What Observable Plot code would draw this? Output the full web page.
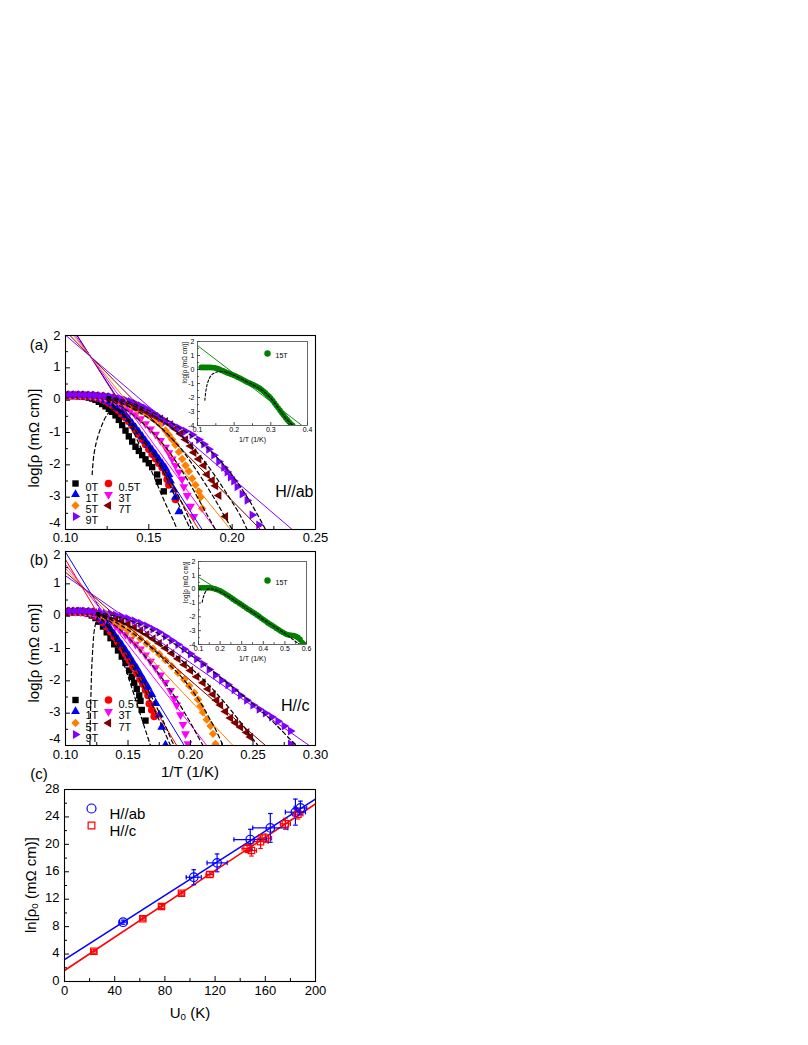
<!DOCTYPE html>
<html><head><meta charset="utf-8">
<script src="https://cdn.jsdelivr.net/npm/d3@7"></script>
<script src="https://cdn.jsdelivr.net/npm/@observablehq/plot@0.6"></script>
<style>
body{margin:0;background:#fff;}
#fig{position:relative;width:808px;height:1045px;font-family:"Liberation Sans",Arial,sans-serif;overflow:hidden;}
.lbl{position:absolute;white-space:nowrap;color:#000;line-height:1;}
.lbl sub{font-size:0.65em;vertical-align:-0.3em;line-height:0;}
</style></head><body><div id="fig"></div>
<script>
// ---------------- DATA ----------------
const fields = ["0T","0.5T","1T","3T","5T","7T","9T"];
// Panel (a) H//ab : [1/T, log rho]
const a_0T = [[0.100,0.13],[0.102,0.13],[0.104,0.13],[0.106,0.13],[0.108,0.12],[0.110,0.11],[0.112,0.10],[0.114,0.08],[0.116,0.05],[0.118,0.01],[0.120,-0.05],[0.122,-0.12],[0.124,-0.19],[0.126,-0.27],[0.128,-0.36],[0.130,-0.47],[0.132,-0.61],[0.134,-0.77],[0.136,-0.94],[0.138,-1.12],[0.140,-1.28],[0.142,-1.44],[0.144,-1.57],[0.146,-1.70],[0.148,-1.83],[0.150,-1.95],[0.152,-2.07],[0.155,-2.30],[0.156,-2.52],[0.159,-2.82]];
const a_05T = [[0.100,0.14],[0.102,0.14],[0.104,0.14],[0.106,0.14],[0.108,0.14],[0.110,0.13],[0.112,0.13],[0.114,0.12],[0.116,0.11],[0.118,0.09],[0.120,0.06],[0.122,0.02],[0.124,-0.03],[0.126,-0.09],[0.128,-0.16],[0.130,-0.24],[0.132,-0.33],[0.134,-0.43],[0.136,-0.54],[0.138,-0.66],[0.140,-0.79],[0.142,-0.93],[0.144,-1.07],[0.146,-1.22],[0.148,-1.37],[0.150,-1.52],[0.152,-1.67],[0.154,-1.81],[0.156,-1.95],[0.158,-2.08],[0.160,-2.24],[0.161,-2.45],[0.162,-2.62],[0.166,-3.07]];
const a_1T = [[0.100,0.14],[0.102,0.14],[0.104,0.14],[0.106,0.14],[0.108,0.14],[0.110,0.14],[0.112,0.13],[0.114,0.12],[0.116,0.11],[0.118,0.09],[0.120,0.07],[0.122,0.04],[0.124,0.00],[0.126,-0.05],[0.128,-0.11],[0.130,-0.18],[0.132,-0.26],[0.134,-0.36],[0.136,-0.47],[0.138,-0.59],[0.140,-0.72],[0.142,-0.85],[0.144,-0.98],[0.146,-1.12],[0.148,-1.26],[0.150,-1.40],[0.152,-1.54],[0.154,-1.68],[0.156,-1.82],[0.158,-1.96],[0.160,-2.10],[0.162,-2.30],[0.163,-2.50],[0.165,-2.78],[0.166,-3.00],[0.168,-3.45]];
const a_3T = [[0.100,0.15],[0.103,0.15],[0.106,0.15],[0.109,0.15],[0.112,0.14],[0.115,0.13],[0.118,0.11],[0.121,0.08],[0.124,0.05],[0.127,0.00],[0.130,-0.06],[0.133,-0.14],[0.136,-0.23],[0.139,-0.33],[0.142,-0.45],[0.145,-0.58],[0.148,-0.73],[0.151,-0.89],[0.154,-1.06],[0.157,-1.25],[0.160,-1.46],[0.162,-1.63],[0.164,-1.82],[0.166,-2.02],[0.168,-2.22],[0.170,-2.44],[0.171,-2.68],[0.173,-2.95],[0.175,-3.28],[0.177,-3.60]];
const a_5T = [[0.100,0.15],[0.103,0.15],[0.106,0.15],[0.109,0.15],[0.112,0.15],[0.115,0.14],[0.118,0.13],[0.121,0.11],[0.124,0.08],[0.127,0.04],[0.130,-0.01],[0.133,-0.06],[0.136,-0.12],[0.139,-0.19],[0.142,-0.26],[0.145,-0.33],[0.148,-0.40],[0.151,-0.50],[0.154,-0.62],[0.157,-0.76],[0.160,-0.94],[0.162,-1.08],[0.164,-1.22],[0.166,-1.38],[0.168,-1.60],[0.170,-1.82],[0.172,-2.02],[0.174,-2.20],[0.176,-2.42],[0.178,-2.62],[0.180,-2.82],[0.181,-3.00],[0.182,-3.35]];
const a_7T = [[0.100,0.16],[0.103,0.16],[0.106,0.16],[0.109,0.16],[0.112,0.15],[0.115,0.15],[0.118,0.14],[0.121,0.12],[0.124,0.10],[0.127,0.07],[0.130,0.03],[0.133,-0.02],[0.136,-0.08],[0.139,-0.14],[0.142,-0.20],[0.145,-0.27],[0.148,-0.34],[0.151,-0.42],[0.154,-0.50],[0.157,-0.58],[0.160,-0.66],[0.163,-0.76],[0.166,-0.89],[0.169,-1.04],[0.172,-1.22],[0.175,-1.42],[0.177,-1.62],[0.180,-1.82],[0.183,-2.02],[0.185,-2.30],[0.188,-2.48],[0.190,-2.65],[0.192,-2.95],[0.196,-3.60]];
const a_9T = [[0.100,0.17],[0.103,0.17],[0.106,0.17],[0.109,0.17],[0.112,0.16],[0.115,0.16],[0.118,0.15],[0.121,0.14],[0.124,0.13],[0.127,0.11],[0.130,0.08],[0.133,0.05],[0.136,0.01],[0.139,-0.04],[0.142,-0.10],[0.145,-0.17],[0.148,-0.25],[0.151,-0.34],[0.154,-0.44],[0.157,-0.55],[0.160,-0.65],[0.164,-0.76],[0.168,-0.86],[0.172,-0.96],[0.176,-1.07],[0.180,-1.22],[0.183,-1.36],[0.186,-1.52],[0.189,-1.70],[0.192,-1.90],[0.195,-2.08],[0.197,-2.22],[0.199,-2.38],[0.201,-2.50],[0.203,-2.68],[0.206,-2.90],[0.209,-3.10],[0.212,-3.55],[0.216,-3.86]];
// Arrhenius fit lines (a): field, x1, y1, x2, y2
const a_fitField = ["0.5T","1T","3T","5T","7T","9T"];
const a_fitX1 = [0.100,0.100,0.100,0.100,0.100,0.100];
const a_fitY1 = [2.58,2.55,2.42,2.31,2.14,2.01];
const a_fitX2 = [0.180,0.182,0.190,0.199,0.217,0.236];
const a_fitY2 = [-4,-4,-4,-4,-4,-4];
// model fits (dashed) (a)
const a_d0T = [[0.116,-2.30],[0.117,-1.70],[0.119,-1.20],[0.122,-0.75],[0.125,-0.45],[0.128,-0.30],[0.131,-0.27],[0.134,-0.36],[0.137,-0.60],[0.140,-0.90],[0.145,-1.45],[0.150,-2.00],[0.155,-2.60],[0.160,-3.20],[0.165,-3.75],[0.167,-4.00]];
const a_d05T = [[0.125,0.00],[0.130,-0.25],[0.135,-0.50],[0.140,-0.80],[0.145,-1.15],[0.150,-1.50],[0.155,-1.90],[0.160,-2.35],[0.165,-2.90],[0.170,-3.45],[0.175,-4.00]];
const a_d1T = [[0.125,0.02],[0.130,-0.20],[0.135,-0.45],[0.140,-0.72],[0.145,-1.05],[0.150,-1.40],[0.155,-1.78],[0.160,-2.20],[0.165,-2.68],[0.170,-3.20],[0.177,-4.00]];
const a_d3T = [[0.125,0.05],[0.135,-0.25],[0.145,-0.65],[0.150,-0.88],[0.155,-1.15],[0.160,-1.45],[0.165,-1.80],[0.170,-2.20],[0.175,-2.62],[0.180,-3.08],[0.185,-3.55],[0.190,-4.00]];
const a_d5T = [[0.125,0.08],[0.135,-0.12],[0.145,-0.40],[0.155,-0.75],[0.160,-0.98],[0.165,-1.25],[0.170,-1.55],[0.175,-1.90],[0.180,-2.28],[0.185,-2.68],[0.190,-3.10],[0.195,-3.55],[0.200,-4.00]];
const a_d7T = [[0.125,0.10],[0.135,-0.05],[0.145,-0.27],[0.155,-0.55],[0.165,-0.90],[0.170,-1.12],[0.175,-1.38],[0.180,-1.68],[0.185,-2.00],[0.190,-2.36],[0.195,-2.75],[0.200,-3.15],[0.205,-3.58],[0.209,-4.00]];
const a_d9T = [[0.125,0.12],[0.135,0.00],[0.145,-0.20],[0.155,-0.45],[0.165,-0.75],[0.175,-1.08],[0.185,-1.48],[0.190,-1.72],[0.195,-2.00],[0.200,-2.32],[0.205,-2.68],[0.210,-3.08],[0.215,-3.52],[0.220,-4.00]];

// Panel (b) H//c
const b_0T = [[0.100,0.12],[0.103,0.12],[0.106,0.12],[0.109,0.12],[0.112,0.11],[0.115,0.10],[0.118,0.07],[0.121,0.02],[0.124,-0.06],[0.127,-0.17],[0.130,-0.32],[0.133,-0.50],[0.136,-0.68],[0.139,-0.87],[0.142,-1.06],[0.145,-1.25],[0.148,-1.45],[0.151,-1.68],[0.153,-1.88],[0.155,-2.06],[0.157,-2.25],[0.159,-2.45],[0.160,-2.62],[0.161,-2.90],[0.164,-3.23]];
const b_05T = [[0.100,0.13],[0.103,0.13],[0.106,0.13],[0.109,0.13],[0.112,0.12],[0.115,0.11],[0.118,0.10],[0.121,0.06],[0.124,0.00],[0.127,-0.09],[0.130,-0.20],[0.133,-0.33],[0.136,-0.48],[0.139,-0.64],[0.142,-0.81],[0.145,-0.98],[0.148,-1.16],[0.151,-1.35],[0.154,-1.55],[0.157,-1.75],[0.160,-1.95],[0.162,-2.10],[0.164,-2.28],[0.166,-2.45],[0.167,-2.71],[0.169,-2.90],[0.171,-3.10]];
const b_1T = [[0.100,0.13],[0.103,0.13],[0.106,0.13],[0.109,0.13],[0.112,0.13],[0.115,0.12],[0.118,0.10],[0.121,0.07],[0.124,0.02],[0.127,-0.06],[0.130,-0.16],[0.133,-0.28],[0.136,-0.41],[0.139,-0.56],[0.142,-0.72],[0.145,-0.88],[0.148,-1.05],[0.151,-1.23],[0.154,-1.42],[0.157,-1.60],[0.160,-1.80],[0.163,-2.00],[0.166,-2.20],[0.169,-2.42],[0.172,-2.70],[0.175,-3.05],[0.177,-3.43],[0.180,-3.98]];
const b_3T = [[0.100,0.14],[0.104,0.14],[0.108,0.14],[0.112,0.13],[0.116,0.12],[0.120,0.10],[0.124,0.06],[0.128,0.00],[0.132,-0.08],[0.136,-0.18],[0.140,-0.30],[0.144,-0.43],[0.148,-0.57],[0.152,-0.72],[0.156,-0.87],[0.160,-1.02],[0.164,-1.20],[0.168,-1.40],[0.172,-1.60],[0.176,-1.82],[0.180,-2.05],[0.184,-2.30],[0.187,-2.55],[0.189,-2.75],[0.192,-3.05],[0.194,-3.35],[0.196,-3.64],[0.198,-3.95]];
const b_5T = [[0.100,0.14],[0.104,0.14],[0.108,0.14],[0.112,0.14],[0.116,0.13],[0.119,0.12],[0.122,0.10],[0.126,0.05],[0.130,-0.01],[0.135,-0.10],[0.140,-0.20],[0.145,-0.31],[0.150,-0.43],[0.155,-0.56],[0.160,-0.70],[0.165,-0.85],[0.170,-1.01],[0.175,-1.18],[0.180,-1.36],[0.185,-1.55],[0.190,-1.75],[0.195,-1.96],[0.199,-2.15],[0.203,-2.37],[0.206,-2.58],[0.208,-2.78],[0.210,-2.97],[0.213,-3.20],[0.216,-3.40],[0.218,-3.64],[0.220,-3.95]];
const b_7T = [[0.100,0.15],[0.104,0.15],[0.108,0.15],[0.112,0.15],[0.116,0.14],[0.120,0.13],[0.123,0.11],[0.126,0.09],[0.130,0.05],[0.135,0.00],[0.140,-0.07],[0.145,-0.15],[0.150,-0.24],[0.155,-0.34],[0.160,-0.45],[0.165,-0.57],[0.170,-0.70],[0.175,-0.84],[0.180,-0.99],[0.185,-1.15],[0.190,-1.32],[0.195,-1.50],[0.200,-1.68],[0.205,-1.87],[0.210,-2.06],[0.214,-2.25],[0.218,-2.42],[0.221,-2.60],[0.224,-2.75],[0.228,-2.95],[0.232,-3.15],[0.236,-3.30],[0.240,-3.43],[0.245,-3.60],[0.248,-3.74]];
const b_9T = [[0.100,0.16],[0.104,0.16],[0.108,0.16],[0.112,0.16],[0.116,0.15],[0.120,0.15],[0.124,0.14],[0.128,0.12],[0.132,0.10],[0.136,0.07],[0.140,0.04],[0.145,-0.01],[0.150,-0.07],[0.155,-0.14],[0.160,-0.22],[0.165,-0.30],[0.170,-0.40],[0.175,-0.50],[0.180,-0.62],[0.185,-0.75],[0.190,-0.88],[0.195,-1.02],[0.200,-1.17],[0.205,-1.32],[0.210,-1.48],[0.215,-1.65],[0.220,-1.82],[0.225,-1.98],[0.230,-2.12],[0.235,-2.28],[0.240,-2.45],[0.245,-2.60],[0.250,-2.75],[0.255,-2.88],[0.260,-3.00],[0.265,-3.12],[0.270,-3.25],[0.275,-3.40],[0.280,-3.55],[0.280,-3.95]];
const b_fitField = ["0.5T","1T","3T","5T","7T","9T"];
const b_fitX1 = [0.100,0.100,0.100,0.100,0.100,0.100];
const b_fitY1 = [1.75,1.98,1.60,1.47,1.36,1.25];
const b_fitX2 = [0.189,0.195,0.213,0.234,0.260,0.295];
const b_fitY2 = [-4,-4,-4,-4,-4,-4];
const b_d0T = [[0.1195,-4.00],[0.1200,-3.00],[0.1205,-2.20],[0.121,-1.60],[0.122,-0.90],[0.123,-0.45],[0.125,-0.10],[0.127,0.03],[0.129,0.05],[0.131,0.00],[0.134,-0.20],[0.138,-0.55],[0.142,-0.95],[0.146,-1.40],[0.150,-1.85],[0.155,-2.45],[0.160,-3.05],[0.165,-3.65],[0.168,-4.00]];
const b_d05T = [[0.125,0.05],[0.130,-0.15],[0.135,-0.40],[0.140,-0.70],[0.145,-1.00],[0.150,-1.32],[0.155,-1.66],[0.160,-2.02],[0.165,-2.40],[0.170,-2.80],[0.175,-3.22],[0.180,-3.65],[0.184,-4.00]];
const b_d1T = [[0.125,0.06],[0.130,-0.12],[0.135,-0.35],[0.140,-0.60],[0.145,-0.88],[0.150,-1.18],[0.155,-1.50],[0.160,-1.84],[0.165,-2.20],[0.170,-2.58],[0.175,-2.98],[0.180,-3.40],[0.185,-3.85],[0.187,-4.00]];
const b_d3T = [[0.125,0.08],[0.135,-0.15],[0.145,-0.47],[0.155,-0.85],[0.165,-1.30],[0.175,-1.80],[0.180,-2.07],[0.185,-2.35],[0.190,-2.65],[0.195,-2.97],[0.200,-3.30],[0.205,-3.65],[0.210,-4.00]];
const b_d5T = [[0.125,0.10],[0.135,-0.08],[0.145,-0.30],[0.155,-0.56],[0.165,-0.86],[0.175,-1.20],[0.185,-1.57],[0.195,-1.98],[0.205,-2.50],[0.210,-2.80],[0.215,-3.15],[0.220,-3.50],[0.226,-4.00]];
const b_d7T = [[0.125,0.10],[0.140,-0.10],[0.155,-0.38],[0.170,-0.72],[0.185,-1.12],[0.200,-1.60],[0.210,-1.95],[0.220,-2.35],[0.230,-2.80],[0.240,-3.28],[0.250,-3.80],[0.254,-4.00]];
const b_d9T = [[0.125,0.12],[0.140,0.00],[0.155,-0.18],[0.170,-0.45],[0.185,-0.80],[0.200,-1.20],[0.215,-1.62],[0.230,-2.08],[0.245,-2.55],[0.260,-3.05],[0.270,-3.42],[0.280,-3.82],[0.285,-4.00]];

// Insets: 15 T
const ia_15T = [[0.110,0.15],[0.115,0.15],[0.120,0.15],[0.125,0.15],[0.130,0.15],[0.135,0.15],[0.140,0.14],[0.145,0.12],[0.150,0.10],[0.155,0.06],[0.160,0.01],[0.165,-0.05],[0.170,-0.10],[0.175,-0.16],[0.180,-0.22],[0.185,-0.27],[0.190,-0.32],[0.195,-0.37],[0.200,-0.43],[0.205,-0.49],[0.210,-0.55],[0.215,-0.61],[0.220,-0.68],[0.225,-0.75],[0.230,-0.82],[0.235,-0.89],[0.240,-0.95],[0.245,-1.01],[0.250,-1.07],[0.255,-1.13],[0.260,-1.20],[0.265,-1.27],[0.270,-1.35],[0.275,-1.45],[0.280,-1.55],[0.285,-1.67],[0.290,-1.80],[0.295,-1.92],[0.300,-2.05],[0.305,-2.22],[0.310,-2.40],[0.315,-2.57],[0.320,-2.75],[0.325,-2.92],[0.330,-3.10],[0.335,-3.27],[0.340,-3.45],[0.345,-3.60],[0.350,-3.75],[0.355,-3.90],[0.360,-4.00]];
const ia_fit = [[0.100,1.71],[0.385,-4.00]];
const ia_dash = [[0.120,-2.20],[0.123,-1.50],[0.127,-1.00],[0.133,-0.60],[0.140,-0.35],[0.150,-0.20],[0.160,-0.15],[0.170,-0.15],[0.180,-0.20],[0.190,-0.30],[0.200,-0.42],[0.220,-0.68],[0.240,-0.95],[0.260,-1.22],[0.280,-1.55],[0.300,-2.05],[0.320,-2.75],[0.340,-3.45],[0.360,-4.00]];
const ib_15T = [[0.10,0.10],[0.11,0.10],[0.12,0.10],[0.13,0.10],[0.14,0.10],[0.15,0.10],[0.16,0.08],[0.17,0.05],[0.18,0.00],[0.19,-0.06],[0.20,-0.12],[0.21,-0.21],[0.22,-0.30],[0.23,-0.40],[0.24,-0.50],[0.25,-0.61],[0.26,-0.72],[0.27,-0.83],[0.28,-0.93],[0.29,-1.03],[0.30,-1.13],[0.31,-1.24],[0.32,-1.35],[0.33,-1.45],[0.34,-1.55],[0.35,-1.65],[0.36,-1.75],[0.37,-1.86],[0.38,-1.97],[0.39,-2.08],[0.40,-2.20],[0.41,-2.31],[0.42,-2.42],[0.43,-2.52],[0.44,-2.62],[0.45,-2.72],[0.46,-2.82],[0.47,-2.92],[0.48,-3.02],[0.49,-3.11],[0.50,-3.20],[0.51,-3.28],[0.52,-3.32],[0.53,-3.34],[0.54,-3.35],[0.55,-3.40],[0.56,-3.48],[0.57,-3.62],[0.58,-3.85],[0.59,-4.00]];
const ib_fit = [[0.100,0.87],[0.590,-4.00]];
const ib_dash = [[0.117,-0.95],[0.122,-0.60],[0.128,-0.33],[0.135,-0.13],[0.142,-0.02],[0.150,0.03],[0.160,0.03],[0.170,0.00],[0.190,-0.12],[0.220,-0.35],[0.260,-0.75],[0.300,-1.15],[0.340,-1.57],[0.380,-1.98],[0.420,-2.40],[0.460,-2.80],[0.500,-3.20],[0.530,-3.55],[0.560,-3.90],[0.570,-4.00]];

// Panel (c): U0 (K), ln rho0
const c_abU = [46.7,103,121.6,148,164,184,188];
const c_abLn = [8.65,15.2,17.3,20.7,22.4,24.7,25.3];
const c_abUerr = [3,6,8,13,14,8,5];
const c_abLnErr = [0.3,1.1,1.3,1.5,2.1,1.9,1.0];
const c_cU = [23.4,62.4,77.3,93.2,115.8,145.5,149,156.2,160,176,186];
const c_cLn = [4.42,9.14,10.94,12.88,15.6,19.4,19.1,20.4,20.9,23.0,24.4];
const c_cUerr = [2,2,2,2,3,4,4,6,5,4,4];
const c_cLnErr = [0.3,0.3,0.3,0.3,0.4,0.6,0.8,1.0,0.6,0.8,0.7];
const c_fitAb = [[0,3.2],[200,26.6]];
const c_fitC = [[0,1.6],[200,25.9]];

// tick values
const ticksA_x = [0.10,0.15,0.20,0.25], ticksA_xm = [0.125,0.175,0.225];
const ticksB_x = [0.10,0.15,0.20,0.25,0.30], ticksB_xm = [0.125,0.175,0.225,0.275];
const ticksLog = [-4,-3,-2,-1,0,1,2], ticksLogm = [-3.5,-2.5,-1.5,-0.5,0.5,1.5];
const ticksIa_x = [0.1,0.2,0.3,0.4], ticksIa_xm = [0.15,0.25,0.35];
const ticksIb_x = [0.1,0.2,0.3,0.4,0.5,0.6], ticksIb_xm = [0.15,0.25,0.35,0.45,0.55];
const ticksC_x = [0,40,80,120,160,200], ticksC_xm = [20,60,100,140,180];
const ticksC_y = [0,4,8,12,16,20,24,28], ticksC_ym = [2,6,10,14,18,22,26];

// ---------------- STYLE ----------------
const FONT = '"Liberation Sans", Arial, Helvetica, sans-serif';
const TICKFS = 13;
const sq3 = Math.sqrt(3);
function triSym(dir){ return {draw(c, size){ const y = Math.sqrt(size/(sq3*3)); let p;
  if (dir === "down") p = [[0,2*y],[-sq3*y,-y],[sq3*y,-y]];
  else if (dir === "left") p = [[-2*y,0],[y,-sq3*y],[y,sq3*y]];
  else p = [[2*y,0],[-y,-sq3*y],[-y,sq3*y]];
  c.moveTo(p[0][0],p[0][1]); c.lineTo(p[1][0],p[1][1]); c.lineTo(p[2][0],p[2][1]); c.closePath(); }}; }
const hcap = {draw(c, size){ const r = Math.sqrt(size)/2; c.moveTo(-r,0); c.lineTo(r,0); }};
const vcap = {draw(c, size){ const r = Math.sqrt(size)/2; c.moveTo(0,-r); c.lineTo(0,r); }};
const fieldStyle = {
  "0T":   {color:"#000000", symbol:"square", r:3.6},
  "0.5T": {color:"#ff0000", symbol:"circle", r:3.8},
  "1T":   {color:"#0000ff", symbol:"triangle", r:3.3},
  "3T":   {color:"#ff00ff", symbol:triSym("down"), r:3.3},
  "5T":   {color:"#ff8000", symbol:"diamond2", r:3.8},
  "7T":   {color:"#800000", symbol:triSym("left"), r:3.3},
  "9T":   {color:"#8000ff", symbol:triSym("right"), r:3.3}
};
const X = d => d[0], Y = d => d[1];

function frameTicks(o, xMaj, xMin, yMaj, yMin, lMaj, lMin, sw){
  const fw = o.width - o.marginLeft - o.marginRight, fh = o.height - o.marginTop - o.marginBottom;
  return [
    Plot.tickX(xMaj, {x: d=>d, insetTop: fh - lMaj, stroke: "black", strokeWidth: sw}),
    Plot.tickX(xMin, {x: d=>d, insetTop: fh - lMin, stroke: "black", strokeWidth: sw}),
    Plot.tickY(yMaj, {y: d=>d, insetRight: fw - lMaj, stroke: "black", strokeWidth: sw}),
    Plot.tickY(yMin, {y: d=>d, insetRight: fw - lMin, stroke: "black", strokeWidth: sw})
  ];
}

function mainPanel(o){
  const marks = [];
  fields.forEach(f => { const st = fieldStyle[f];
    marks.push(Plot.dot(o.series[f], {x: X, y: Y, symbol: st.symbol, fill: st.color, r: st.r, clip: true})); });
  o.fitField.forEach((f, i) => marks.push(Plot.link([i], {x1: i=>o.fitX1[i], y1: i=>o.fitY1[i], x2: i=>o.fitX2[i], y2: i=>o.fitY2[i], stroke: fieldStyle[f].color, strokeWidth: 1, clip: true})));
  fields.forEach(f => marks.push(Plot.line(o.dashed[f], {x: X, y: Y, stroke: "black", strokeWidth: 1.2, strokeDasharray: "4,3", curve: "catmull-rom", clip: true})));
  // legend
  const cols = [10, 43], rows = o.legendRows;
  const pos = {"0T":[0,0],"0.5T":[1,0],"1T":[0,1],"3T":[1,1],"5T":[0,2],"7T":[1,2],"9T":[0,3]};
  fields.forEach(f => { const st = fieldStyle[f]; const [c, r] = pos[f];
    marks.push(Plot.dot([f], {frameAnchor: "top-left", dx: cols[c], dy: rows[r], symbol: st.symbol, fill: st.color, r: st.r}));
    marks.push(Plot.text([f], {frameAnchor: "top-left", dx: cols[c] + 10, dy: rows[r], text: d=>d, textAnchor: "start", fontSize: 11}));
  });
  marks.push(Plot.text([o.tag], {frameAnchor: "top-right", dx: o.tagDx, dy: o.tagDy, text: d=>d, textAnchor: "end", fontSize: o.tagSize}));
  marks.push(...frameTicks(o, o.xMaj, o.xMin, ticksLog, ticksLogm, 5, 3, 1));
  marks.push(Plot.axisX(o.xMaj, {tickSize: 0, tickPadding: o.xPad, tickFormat: d3.format(".2f"), fontSize: TICKFS, label: null}));
  // y tick labels: top, middle, bottom (bottom nudged up so it clears the x labels)
  marks.push(Plot.axisY([2], {tickSize: 0, tickPadding: 5, dy: o.topDy, tickFormat: d => String(d), fontSize: TICKFS, label: null}));
  marks.push(Plot.axisY([-3,-2,-1,0,1], {tickSize: 0, tickPadding: 5, dy: -1, tickFormat: d => String(d), fontSize: TICKFS, label: null}));
  marks.push(Plot.axisY([-4], {tickSize: 0, tickPadding: 5, dy: o.botDy, tickFormat: d => String(d), fontSize: TICKFS, label: null}));
  marks.push(Plot.frame({stroke: "black", strokeWidth: 1.1}));
  return Plot.plot({
    width: o.width, height: o.height, marginLeft: o.marginLeft, marginRight: o.marginRight, marginTop: o.marginTop, marginBottom: o.marginBottom,
    x: {domain: o.xDomain, label: null}, y: {domain: [-4, 2], label: null},
    style: {fontFamily: FONT, fontSize: TICKFS + "px", background: "none", color: "black", overflow: "visible"},
    marks
  });
}

function insetPanel(o){
  const marks = [
    Plot.frame({fill: "white", stroke: "none"}),
    Plot.dot(o.data, {x: X, y: Y, fill: "#008000", r: 2.8, clip: true}),
    Plot.line(o.fit, {x: X, y: Y, stroke: "#008000", strokeWidth: 0.9, clip: true}),
    Plot.line(o.dash, {x: X, y: Y, stroke: "black", strokeWidth: 1.1, strokeDasharray: "2.5,2", curve: "catmull-rom", clip: true}),
    Plot.dot(["15T"], {frameAnchor: "top-left", dx: o.legDx, dy: o.legDy, fill: "#008000", r: 3.2}),
    Plot.text(["15T"], {frameAnchor: "top-left", dx: o.legDx + 8, dy: o.legDy, text: d=>d, textAnchor: "start", fontSize: 7}),
    ...frameTicks(o, o.xMaj, o.xMin, ticksLog, ticksLogm, 3, 1.8, 0.7),
    Plot.axisX(o.xMaj, {tickSize: 0, tickPadding: 2, tickFormat: d => String(d), fontSize: 7, label: null}),
    Plot.axisY(ticksLog, {tickSize: 0, tickPadding: 3, tickFormat: d => String(d), fontSize: 7, label: null}),
    Plot.text(["1/T (1/K)"], {frameAnchor: "bottom", dy: 16, text: d=>d, fontSize: 7}),
    Plot.text(["log[ρ (mΩ cm)]"], {frameAnchor: "left", dx: -13, rotate: -90, text: d=>d, fontSize: 6.3}),
    Plot.frame({stroke: "#444", strokeWidth: 0.8})
  ];
  return Plot.plot({
    width: o.width, height: o.height, marginLeft: o.marginLeft, marginRight: o.marginRight, marginTop: o.marginTop, marginBottom: o.marginBottom,
    x: {domain: o.xDomain, label: null}, y: {domain: [-4, 2], label: null},
    style: {fontFamily: FONT, fontSize: "7px", background: "none", color: "black", overflow: "visible"},
    marks
  });
}

function panelC(o){
  const blue = "#0000ff", red = "#ff0000";
  const ia = c_abU.map((_, i) => i), ic = c_cU.map((_, i) => i);
  const errMarks = (U, L, UE, LE, idx, col) => [
    Plot.ruleX(idx, {x: i=>U[i], y1: i=>L[i]-LE[i], y2: i=>L[i]+LE[i], stroke: col, strokeWidth: 1.2}),
    Plot.ruleY(idx, {y: i=>L[i], x1: i=>U[i]-UE[i], x2: i=>U[i]+UE[i], stroke: col, strokeWidth: 1.2}),
    Plot.dot(idx, {x: i=>U[i], y: i=>L[i]+LE[i], symbol: hcap, stroke: col, fill: "none", r: 2.6, strokeWidth: 1.2}),
    Plot.dot(idx, {x: i=>U[i], y: i=>L[i]-LE[i], symbol: hcap, stroke: col, fill: "none", r: 2.6, strokeWidth: 1.2}),
    Plot.dot(idx, {x: i=>U[i]+UE[i], y: i=>L[i], symbol: vcap, stroke: col, fill: "none", r: 2.6, strokeWidth: 1.2}),
    Plot.dot(idx, {x: i=>U[i]-UE[i], y: i=>L[i], symbol: vcap, stroke: col, fill: "none", r: 2.6, strokeWidth: 1.2})
  ];
  const marks = [
    Plot.line(c_fitAb, {x: X, y: Y, stroke: blue, strokeWidth: 1.6, clip: true}),
    Plot.line(c_fitC, {x: X, y: Y, stroke: red, strokeWidth: 1.6, clip: true}),
    ...errMarks(c_cU, c_cLn, c_cUerr, c_cLnErr, ic, red),
    ...errMarks(c_abU, c_abLn, c_abUerr, c_abLnErr, ia, blue),
    Plot.dot(ic, {x: i=>c_cU[i], y: i=>c_cLn[i], symbol: "square", stroke: red, fill: "none", r: 3.6, strokeWidth: 1.2}),
    Plot.dot(ia, {x: i=>c_abU[i], y: i=>c_abLn[i], symbol: "circle", stroke: blue, fill: "none", r: 4.3, strokeWidth: 1.2}),
    Plot.dot(["H//ab"], {frameAnchor: "top-left", dx: 27, dy: 19, symbol: "circle", stroke: blue, fill: "none", r: 4.5, strokeWidth: 1.2}),
    Plot.text(["H//ab"], {frameAnchor: "top-left", dx: 45, dy: 19, text: d=>d, textAnchor: "start", fontSize: 15}),
    Plot.dot(["H//c"], {frameAnchor: "top-left", dx: 27, dy: 36, symbol: "square", stroke: red, fill: "none", r: 3.8, strokeWidth: 1.2}),
    Plot.text(["H//c"], {frameAnchor: "top-left", dx: 45, dy: 36, text: d=>d, textAnchor: "start", fontSize: 15}),
    ...frameTicks(o, ticksC_x, ticksC_xm, ticksC_y, ticksC_ym, 5, 3, 1),
    Plot.axisX(ticksC_x, {tickSize: 0, tickPadding: 4, tickFormat: d => String(d), fontSize: TICKFS, label: null}),
    Plot.axisY(ticksC_y, {tickSize: 0, tickPadding: 5, dy: -1, tickFormat: d => String(d), fontSize: TICKFS, label: null}),
    Plot.frame({stroke: "black", strokeWidth: 1.1})
  ];
  return Plot.plot({
    width: o.width, height: o.height, marginLeft: o.marginLeft, marginRight: o.marginRight, marginTop: o.marginTop, marginBottom: o.marginBottom,
    x: {domain: [0, 200], label: null}, y: {domain: [0, 28], label: null},
    style: {fontFamily: FONT, fontSize: TICKFS + "px", background: "none", color: "black", overflow: "visible"},
    marks
  });
}

// ---------------- LAYOUT ----------------
const fig = document.getElementById("fig");
function place(el, left, top){ el.style.position = "absolute"; el.style.left = left + "px"; el.style.top = top + "px"; fig.appendChild(el); }
function label(html, cx, cy, size, rot){ const d = document.createElement("div"); d.className = "lbl"; d.innerHTML = html;
  d.style.left = cx + "px"; d.style.top = cy + "px"; d.style.fontSize = size + "px";
  d.style.transform = "translate(-50%,-50%)" + (rot ? " rotate(-90deg)" : ""); fig.appendChild(d); }

const pa = mainPanel({width: 340, height: 230, marginLeft: 65, marginRight: 25, marginTop: 15, marginBottom: 21,
  xDomain: [0.10, 0.25], xMaj: ticksA_x, xMin: ticksA_xm, xPad: 3, topDy: 0, botDy: -7,
  series: {"0T": a_0T, "0.5T": a_05T, "1T": a_1T, "3T": a_3T, "5T": a_5T, "7T": a_7T, "9T": a_9T},
  dashed: {"0T": a_d0T, "0.5T": a_d05T, "1T": a_d1T, "3T": a_d3T, "5T": a_d5T, "7T": a_d7T, "9T": a_d9T},
  fitField: a_fitField, fitX1: a_fitX1, fitY1: a_fitY1, fitX2: a_fitX2, fitY2: a_fitY2,
  legendRows: [148, 159, 170, 181], tag: "H//ab", tagDx: -2, tagDy: 150, tagSize: 16});
place(pa, 0, 320);

const pb = mainPanel({width: 340, height: 231, marginLeft: 65, marginRight: 25, marginTop: 15, marginBottom: 22,
  xDomain: [0.10, 0.30], xMaj: ticksB_x, xMin: ticksB_xm, xPad: 4, topDy: 3, botDy: -7,
  series: {"0T": b_0T, "0.5T": b_05T, "1T": b_1T, "3T": b_3T, "5T": b_5T, "7T": b_7T, "9T": b_9T},
  dashed: {"0T": b_d0T, "0.5T": b_d05T, "1T": b_d1T, "3T": b_d3T, "5T": b_d5T, "7T": b_d7T, "9T": b_d9T},
  fitField: b_fitField, fitX1: b_fitX1, fitY1: b_fitY1, fitX2: b_fitX2, fitY2: b_fitY2,
  legendRows: [148.5, 160, 171.5, 183], tag: "H//c", tagDx: -6, tagDy: 148, tagSize: 16});
place(pb, 0, 536);

const ia = insetPanel({width: 150, height: 125, marginLeft: 27, marginRight: 13, marginTop: 11, marginBottom: 30,
  xDomain: [0.1, 0.4], xMaj: ticksIa_x, xMin: ticksIa_xm, data: ia_15T, fit: ia_fit, dash: ia_dash, legDx: 70, legDy: 12});
place(ia, 170, 330);
const ib = insetPanel({width: 150, height: 125, marginLeft: 28, marginRight: 14, marginTop: 11, marginBottom: 31,
  xDomain: [0.1, 0.6], xMaj: ticksIb_x, xMin: ticksIb_xm, data: ib_15T, fit: ib_fit, dash: ib_dash, legDx: 69, legDy: 19});
place(ib, 170, 550);

const pc = panelC({width: 340, height: 229, marginLeft: 64, marginRight: 25, marginTop: 15, marginBottom: 22});
place(pc, 0, 774);

label("(a)", 39, 344, 15);
label("(b)", 39, 559, 15);
label("(c)", 39, 773, 15);
label("log[ρ (mΩ cm)]", 33, 438, 15, true);
label("log[ρ (mΩ cm)]", 33, 653, 15, true);
label("ln[ρ<sub>0</sub> (mΩ cm)]", 30, 885, 15, true);
label("1/T (1/K)", 190, 771, 15);
label("U<sub>0</sub> (K)", 190, 1012, 15);
</script></body></html>
